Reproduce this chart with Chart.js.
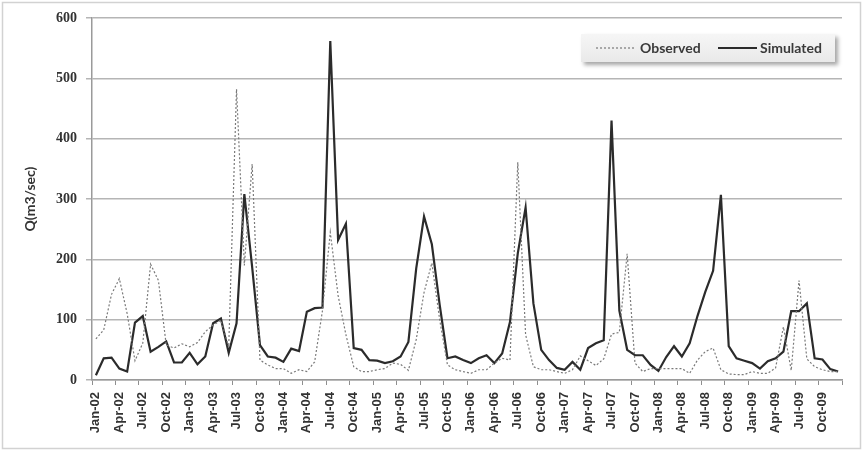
<!DOCTYPE html>
<html><head><meta charset="utf-8">
<script src="https://cdn.jsdelivr.net/npm/chart.js@4.4.1/dist/chart.umd.min.js"></script>
<style>html,body{margin:0;padding:0;background:#fff;overflow:hidden}#wrap{position:relative;width:864px;height:451px}</style>
</head><body><div id="wrap"><canvas id="c" width="864" height="451"></canvas></div>
<script>
const monthNames = ['Jan','Feb','Mar','Apr','May','Jun','Jul','Aug','Sep','Oct','Nov','Dec'];
const years = ['02','03','04','05','06','07','08','09'];
const categories = years.flatMap(y => monthNames.map(m => m + '-' + y));
const tickLabels = ['Jan-02','Apr-02','Jul-02','Oct-02','Jan-03','Apr-03','Jul-03','Oct-03',
  'Jan-04','Apr-04','Jul-04','Oct-04','Jan-05','Apr-05','Jul-05','Oct-05',
  'Jan-06','Apr-06','Jul-06','Oct-06','Jan-07','Apr-07','Jul-07','Oct-07',
  'Jan-08','Apr-08','Jul-08','Oct-08','Jan-09','Apr-09','Jul-09','Oct-09'];
const yTicks = [0,100,200,300,400,500,600];

const observed = [
  68,83,142,168,110,32,61,192,165,58,53,60,
  55,62,80,91,99,55,482,190,358,33,25,19,
  19,11,17,14,30,115,245,140,75,22,14,14,
  17,19,28,26,16,67,145,194,100,25,17,14,
  11,17,17,28,36,33,361,75,22,17,17,14,
  11,17,40,32,24,35,76,79,209,28,14,19,
  19,19,19,19,11,33,47,53,17,10,9,9,
  14,11,11,20,88,16,165,35,22,17,14,14];
const simulated = [
  8,36,37,19,14,95,106,47,55,64,29,29,
  45,26,39,94,102,45,94,308,187,58,39,37,
  30,52,48,113,119,120,562,232,259,53,50,33,
  32,28,31,39,63,185,271,225,125,36,39,33,
  28,36,41,28,44,96,210,286,127,50,33,20,
  17,30,17,53,61,66,430,115,50,41,41,25,
  15,38,56,39,61,106,146,181,307,56,36,32,
  28,19,31,36,47,114,114,127,36,34,18,14];

const frame = {
  id: 'frame',
  beforeDraw(chart) {
    const ctx = chart.ctx;
    ctx.save();
    ctx.fillStyle = '#fff';
    ctx.fillRect(0, 0, chart.width, chart.height);
    ctx.strokeStyle = '#d2d2d2';
    ctx.lineWidth = 1.5;
    ctx.strokeRect(2.5, 2.5, chart.width - 6, chart.height - 5);
    ctx.restore();
  }
};

const boxLegend = {
  id: 'boxLegend',
  afterDraw(chart) {
    const ctx = chart.ctx;
    const ds = chart.data.datasets;
    const x = 581, y = 34, w = 254, h = 28;
    ctx.save();
    ctx.shadowColor = 'rgba(0,0,0,0.35)';
    ctx.shadowBlur = 4;
    ctx.shadowOffsetX = 3;
    ctx.shadowOffsetY = 3;
    const g = ctx.createLinearGradient(0, y, 0, y + h);
    g.addColorStop(0, '#f6f6f6');
    g.addColorStop(1, '#e9e9e9');
    ctx.fillStyle = g;
    ctx.fillRect(x, y, w, h);
    ctx.restore();
    ctx.save();
    ctx.font = 'bold 14px Lato, "Liberation Sans", sans-serif';
    ctx.fillStyle = '#3a3a3a';
    ctx.textBaseline = 'middle';
    const cy = y + h / 2;
    const items = [{x0: 596, x1: 636, tx: 640}, {x0: 718, x1: 757, tx: 760}];
    ds.forEach((d, i) => {
      const it = items[i];
      ctx.beginPath();
      ctx.setLineDash(d.borderDash || []);
      ctx.lineWidth = d.borderWidth;
      ctx.strokeStyle = d.borderColor;
      ctx.moveTo(it.x0, cy);
      ctx.lineTo(it.x1, cy);
      ctx.stroke();
      ctx.setLineDash([]);
      ctx.fillText(d.label, it.tx, cy);
    });
    ctx.restore();
  }
};

new Chart(document.getElementById('c'), {
  type: 'line',
  data: {
    labels: categories,
    datasets: [
      {label: 'Observed', data: observed, borderColor: '#7a7a7a', borderWidth: 1.2, borderDash: [2, 2],
       pointRadius: 0, tension: 0, fill: false},
      {label: 'Simulated', data: simulated, borderColor: '#2b2b2b', borderWidth: 2.2,
       pointRadius: 0, tension: 0, fill: false}
    ]
  },
  options: {
    responsive: false,
    animation: false,
    devicePixelRatio: 1,
    layout: {padding: {left: 0, top: 18, right: 22, bottom: 0}},
    plugins: {legend: {display: false}, tooltip: {enabled: false}},
    scales: {
      x: {
        type: 'category',
        offset: true,
        grid: {
          offset: true, drawOnChartArea: false, drawTicks: true, tickLength: 5, lineWidth: 1,
          color: c => (c.index === undefined || c.index % 3 === 0) ? '#8f8f8f' : 'rgba(0,0,0,0)'
        },
        border: {display: true, color: '#9a9a9a', width: 1.5},
        ticks: {
          autoSkip: false, maxRotation: 90, minRotation: 90, padding: 7,
          color: '#333',
          font: {family: '"Liberation Sans", Arial, sans-serif', weight: 'bold', size: 13},
          callback: function(v, i) { const l = categories[i]; return tickLabels.includes(l) ? l : ''; }
        },
        afterFit: s => { s.height = 71; }
      },
      y: {
        min: 0, max: 600,
        afterBuildTicks: s => { s.ticks = yTicks.map(v => ({value: v})); },
        grid: {color: '#b5b5b5', lineWidth: 1.5, drawTicks: true, tickLength: 6},
        border: {display: true, color: '#9a9a9a', width: 1.5},
        ticks: {
          padding: 9, color: '#333',
          font: {family: '"Liberation Serif", "Times New Roman", serif', weight: 'bold', size: 14}
        },
        title: {
          display: true, text: 'Q(m3/sec)', color: '#333',
          font: {family: 'Lato, "Liberation Sans", sans-serif', weight: 'bold', size: 14},
          padding: {top: 22, bottom: 0}
        },
        afterFit: s => { s.width = 92; }
      }
    }
  },
  plugins: [frame, boxLegend]
});
</script>
</body></html>
